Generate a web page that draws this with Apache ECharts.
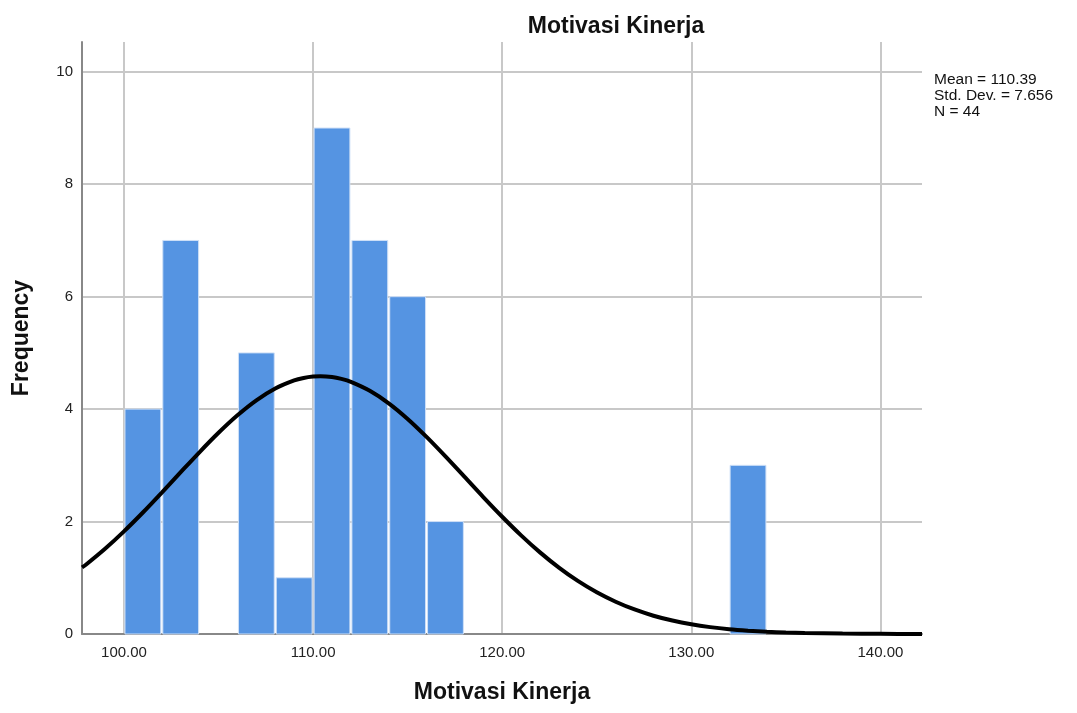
<!DOCTYPE html>
<html>
<head>
<meta charset="utf-8">
<script src="https://cdn.jsdelivr.net/npm/echarts@6/dist/echarts.min.js"></script>
<style>
html,body{margin:0;padding:0;background:#fff;}
#chart{width:1077px;height:713px;}
</style>
</head>
<body>
<div id="chart"></div>
<script>
// Histogram bins (start, end) and frequencies
const binStarts = [100, 102, 104, 106, 108, 110, 112, 114, 116, 132];
const binWidth = 2;
const frequencies = [4, 7, 0, 5, 1, 9, 7, 6, 2, 3];
// Normal curve points
const curveX = [97.78, 98, 99, 100, 101, 102, 103, 104, 105, 106, 107, 108, 109, 109.5, 110, 110.39, 111, 111.5, 112, 113, 114, 115, 116, 117, 118, 119, 120, 121, 122, 123, 124, 125, 126, 127, 128, 129, 130, 131, 132, 133, 134, 135, 136, 138, 140, 142.2];
const curveY = [1.186, 1.237, 1.516, 1.826, 2.161, 2.515, 2.878, 3.237, 3.579, 3.890, 4.157, 4.367, 4.510, 4.554, 4.579, 4.585, 4.571, 4.537, 4.485, 4.326, 4.103, 3.825, 3.505, 3.158, 2.798, 2.436, 2.086, 1.755, 1.452, 1.181, 0.944, 0.742, 0.574, 0.436, 0.325, 0.239, 0.172, 0.122, 0.085, 0.059, 0.039, 0.026, 0.017, 0.007, 0.003, 0.001];
const xTicks = [100, 110, 120, 130, 140];
const yTicks = [0, 2, 4, 6, 8, 10];
const statsLines = ['Mean = 110.39', 'Std. Dev. = 7.656', 'N = 44'];

const chart = echarts.init(document.getElementById('chart'), null, {renderer: 'canvas'});
const barData = binStarts.map((s, i) => [s, s + binWidth, frequencies[i]]);
const lineData = curveX.map((x, i) => [x, curveY[i]]);
const fontFamily = 'Liberation Sans, Arial, sans-serif';

chart.setOption({
  animation: false,
  backgroundColor: '#fff',
  title: {
    text: 'Motivasi Kinerja',
    left: 611, top: 10, textAlign: 'center',
    textStyle: {fontFamily, fontSize: 23, fontWeight: 'bold', color: '#111'}
  },
  graphic: [{
    type: 'text', left: 934, top: 72,
    style: {text: statsLines.join('\n'), font: '15.5px Liberation Sans, Arial, sans-serif', fill: '#111', lineHeight: 16}
  }],
  grid: {left: 82, right: 155, top: 42, bottom: 79},
  xAxis: {
    type: 'value', min: 97.78, max: 142.2,
    name: 'Motivasi Kinerja', nameLocation: 'middle', nameGap: 47,
    nameTextStyle: {fontFamily, fontSize: 23, fontWeight: 'bold', color: '#111'},
    axisLine: {show: true, lineStyle: {color: '#888', width: 2}},
    axisTick: {show: false, customValues: xTicks},
    axisLabel: {customValues: xTicks, formatter: v => v.toFixed(2), fontFamily, fontSize: 15, color: '#222', margin: 11},
    splitLine: {show: true, lineStyle: {color: '#c8c8c8', width: 2}}
  },
  yAxis: {
    type: 'value', min: 0, max: 10.53,
    name: 'Frequency', nameLocation: 'middle', nameGap: 49,
    nameTextStyle: {fontFamily, fontSize: 23, fontWeight: 'bold', color: '#111'},
    axisLine: {show: true, lineStyle: {color: '#888', width: 2}},
    axisTick: {show: false, customValues: yTicks},
    axisLabel: {customValues: yTicks, fontFamily, fontSize: 15, color: '#222', margin: 9},
    splitLine: {show: true, lineStyle: {color: '#c8c8c8', width: 2}}
  },
  series: [{
    type: 'custom',
    data: barData,
    encode: {x: [0, 1], y: 2},
    renderItem: function (params, api) {
      const p0 = api.coord([api.value(0), 0]);
      const p1 = api.coord([api.value(1), api.value(2)]);
      if (api.value(2) <= 0) return null;
      return {
        type: 'rect',
        shape: {x: p0[0] + 1, y: p1[1], width: p1[0] - p0[0] - 2, height: p0[1] - p1[1]},
        style: {fill: '#5594e2', stroke: '#cfe0f7', lineWidth: 1}
      };
    },
    z: 2
  }, {
    type: 'line',
    data: lineData,
    smooth: 0.3,
    showSymbol: false,
    lineStyle: {color: '#000', width: 4},
    z: 3
  }]
});
</script>
</body>
</html>
